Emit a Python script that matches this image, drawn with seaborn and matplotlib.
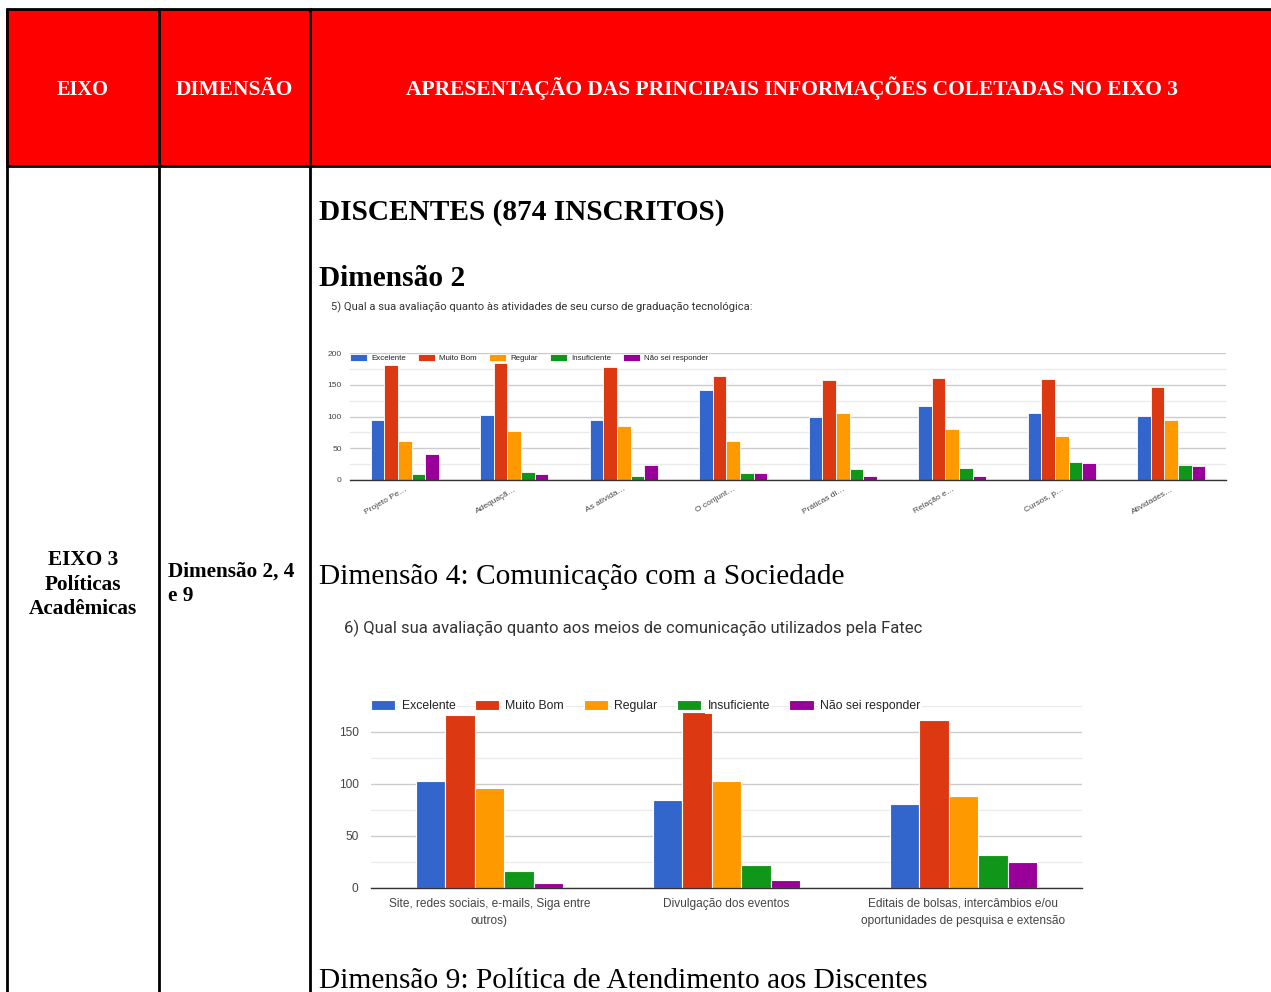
import matplotlib
matplotlib.use("Agg")
import matplotlib.pyplot as plt
from matplotlib.patches import Rectangle
import seaborn as sns
import pandas as pd

sns.set_theme(style="white")
plt.rcParams['font.family'] = ['Liberation Sans', 'DejaVu Sans']

W, H = 1271, 992

# ---------------- data ----------------
respostas = ["Excelente", "Muito Bom", "Regular", "Insuficiente", "Não sei responder"]
cores = ["#3366CC", "#DC3912", "#FF9900", "#109618", "#990099"]

itens_q5 = ["Projeto Pe…", "Adequaçã…", "As ativida…", "O conjunt…",
            "Práticas di…", "Relação e…", "Cursos, p…", "Atividades…"]
q5_excelente = [95, 102, 94, 141, 100, 117, 105, 101]
q5_muito_bom = [181, 185, 178, 163, 157, 161, 159, 147]
q5_regular = [61, 77, 85, 61, 105, 81, 69, 94]
q5_insuficiente = [9, 13, 6, 11, 18, 19, 28, 24]
q5_nao_sei = [41, 9, 24, 11, 6, 7, 27, 22]

itens_q6 = ["Site, redes sociais, e-mails, Siga entre\noutros)",
            "Divulgação dos eventos",
            "Editais de bolsas, intercâmbios e/ou\noportunidades de pesquisa e extensão"]
q6_excelente = [103, 85, 81]
q6_muito_bom = [166, 169, 162]
q6_regular = [96, 103, 88]
q6_insuficiente = [16, 22, 32]
q6_nao_sei = [5, 8, 25]


def long_df(itens, series):
    rows = []
    for resp, vals in zip(respostas, series):
        for it, v in zip(itens, vals):
            rows.append({"item": it, "resposta": resp, "valor": v})
    return pd.DataFrame(rows)


df5 = long_df(itens_q5, [q5_excelente, q5_muito_bom, q5_regular, q5_insuficiente, q5_nao_sei])
df6 = long_df(itens_q6, [q6_excelente, q6_muito_bom, q6_regular, q6_insuficiente, q6_nao_sei])

fig = plt.figure(figsize=(W / 100, H / 100), dpi=100)
fig.patch.set_facecolor("white")

bg = fig.add_axes([0, 0, 1, 1])
bg.set_xlim(0, W)
bg.set_ylim(H, 0)
bg.axis("off")

# ---------------- table ----------------
bg.add_patch(Rectangle((6, 9), W - 6, 157, facecolor="#FF0000", edgecolor="none", zorder=0))
lw = 2.0
bg.plot([6, W], [9, 9], color="black", lw=lw, solid_capstyle="butt")
bg.plot([6, W], [166, 166], color="black", lw=lw, solid_capstyle="butt")
for x in [6.5, 159, 310]:
    bg.plot([x, x], [8, H], color="black", lw=lw, solid_capstyle="butt")

renderer = fig.canvas.get_renderer()


def fit(x, y, s, target_w, ha="left", **kw):
    t = bg.text(x, y, s, ha=ha, va="baseline", fontsize=10, **kw)
    w = t.get_window_extent(renderer).width
    t.set_fontsize(10 * target_w / w)
    return t


serif = "Liberation Serif"
fit(83, 95, "EIXO", 52, ha="center", color="white", family=serif, weight="bold")
fit(234, 95, "DIMENSÃO", 117, ha="center", color="white", family=serif, weight="bold")
fit(792, 95, "APRESENTAÇÃO DAS PRINCIPAIS INFORMAÇÕES COLETADAS NO EIXO 3", 772,
    ha="center", color="white", family=serif, weight="bold")

t0 = fit(83, 565, "EIXO 3", 70, ha="center", color="black", family=serif, weight="bold")
bg.text(83, 590, "Políticas", ha="center", va="baseline", color="black", family=serif,
        weight="bold", fontsize=t0.get_fontsize())
bg.text(83, 614, "Acadêmicas", ha="center", va="baseline", color="black", family=serif,
        weight="bold", fontsize=t0.get_fontsize())
t1 = fit(168, 577, "Dimensão 2, 4", 127, color="black", family=serif, weight="bold")
bg.text(168, 601, "e 9", ha="left", va="baseline", color="black", family=serif,
        weight="bold", fontsize=t1.get_fontsize())

fit(319, 220, "DISCENTES (874 INSCRITOS)", 406, color="black", family=serif, weight="bold")
fit(319, 286, "Dimensão 2", 146, color="black", family=serif, weight="bold")
fit(331, 310, "5) Qual a sua avaliação quanto às atividades de seu curso de graduação tecnológica:",
    419, color="#333333", family="Roboto")
fit(319, 584, "Dimensão 4: Comunicação com a Sociedade", 524, color="black", family=serif)
fit(344, 633, "6) Qual sua avaliação quanto aos meios de comunicação utilizados pela Fatec",
    577, color="#333333", family="Roboto")
fit(319, 988, "Dimensão 9: Política de Atendimento aos Discentes", 609, color="black", family=serif)


def px_axes(x0, y0, x1, y1):
    return fig.add_axes([x0 / W, 1 - y1 / H, (x1 - x0) / W, (y1 - y0) / H])


def style_chart(ax, ymax, major, fs):
    ax.set_ylim(0, ymax)
    ax.set_yticks(major)
    ax.grid(True, which="major", axis="y", color="#cccccc", lw=1)
    ax.grid(True, which="minor", axis="y", color="#ebebeb", lw=1)
    ax.grid(False, axis="x")
    ax.set_axisbelow(True)
    for s in ["top", "right", "left"]:
        ax.spines[s].set_visible(False)
    ax.spines["bottom"].set_color("#333333")
    ax.spines["bottom"].set_linewidth(1)
    ax.spines["bottom"].set_zorder(5)
    ax.tick_params(axis="both", which="both", length=0, colors="#444444", labelsize=fs)
    ax.set_xlabel("")
    ax.set_ylabel("")
    ax.set_facecolor("none")


# ---------------- chart 1 ----------------
ax1 = px_axes(350, 353, 1226, 480)
sns.barplot(data=df5, x="item", y="valor", hue="resposta", hue_order=respostas,
            palette=cores, saturation=1, width=0.62, edgecolor="white", linewidth=0.6,
            ax=ax1, errorbar=None)
style_chart(ax1, 200, [0, 50, 100, 150, 200], 6.0)
ax1.set_yticks([25, 75, 125, 175], minor=True)
ax1.set_xlim(-0.5, len(itens_q5) - 0.5)
ax1.tick_params(axis="y", pad=6)
ax1.tick_params(axis="x", pad=4)
for lab in ax1.get_xticklabels():
    lab.set_rotation(30)
    lab.set_ha("right")
    lab.set_rotation_mode("anchor")
    lab.set_fontsize(6.0)
leg1 = ax1.legend(loc="center left", bbox_to_anchor=(0.0, 0.96), ncol=5, frameon=False,
                  fontsize=5.7, handlelength=2.2, handleheight=0.9, handletextpad=0.5,
                  columnspacing=1.5, borderaxespad=0, borderpad=0)
for t in leg1.get_texts():
    t.set_color("#222222")

# ---------------- chart 2 ----------------
ax2 = px_axes(371, 706, 1082, 888)
sns.barplot(data=df6, x="item", y="valor", hue="resposta", hue_order=respostas,
            palette=cores, saturation=1, width=0.62, edgecolor="white", linewidth=0.8,
            ax=ax2, errorbar=None)
style_chart(ax2, 175, [0, 50, 100, 150], 8.6)
ax2.set_yticks([25, 75, 125, 175], minor=True)
ax2.set_xlim(-0.5, len(itens_q6) - 0.5)
ax2.tick_params(axis="y", pad=9)
ax2.tick_params(axis="x", pad=7)
for lab in ax2.get_xticklabels():
    lab.set_linespacing(1.6)
leg2 = ax2.legend(loc="center left", bbox_to_anchor=(0.0, 1.0), ncol=5, frameon=False,
                  fontsize=8.8, handlelength=2.0, handleheight=0.85, handletextpad=0.5,
                  columnspacing=1.6, borderaxespad=0, borderpad=0)
for t in leg2.get_texts():
    t.set_color("#222222")
    t.set_bbox(dict(facecolor="white", edgecolor="none", pad=1.5))

fig.savefig("out.png", dpi=100)
